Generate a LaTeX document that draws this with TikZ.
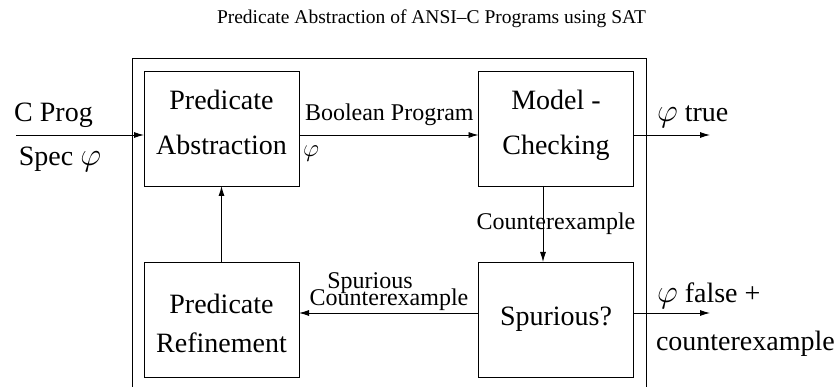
\documentclass[tikz,border=0pt]{standalone}
\usepackage{fontspec}
\setmainfont{Liberation Serif}
\usetikzlibrary{arrows.meta,calc}
\newcommand{\bigphi}{\scalebox{1.3}{$\varphi$}}
\begin{document}
\begin{tikzpicture}[x=1pt,y=-1pt,
  box/.style={draw, line width=0.9pt, minimum width=155pt, minimum height=115pt,
              inner sep=0pt, outer sep=0pt, align=center},
  big/.style={font=\fontsize{28}{34}\selectfont},
  small/.style={font=\fontsize{24}{17}\selectfont},
  arr/.style={-{Latex[length=10pt,width=6pt]}, line width=0.9pt},
  lbl/.style={inner sep=0pt, outer sep=0pt}
]
\clip (0,0) rectangle (840,387);
% title
\node[lbl, anchor=base west, font=\fontsize{19.5}{20}\selectfont] (title) at (217,24)
  {Predicate Abstraction of ANSI--C Programs using SAT};
% outer frame (runs off the bottom)
\node[draw, line width=0.9pt, anchor=north west, minimum width=514pt, minimum height=360pt,
      inner sep=0pt, outer sep=0pt] (frame) at (132,58) {};
% boxes
\node[box, font=\fontsize{28}{45}\selectfont, text height=64pt, text depth=11pt] (pa) at (221.5,128.5) {Predicate\\Abstraction};
\node[box, font=\fontsize{28}{45}\selectfont, text height=64pt, text depth=11pt] (mc) at (556,128.5) {Model -\\Checking};
\node[box, font=\fontsize{28}{39}\selectfont, text height=65pt, text depth=0pt] (pr) at (221.5,319.5) {Predicate\\Refinement};
\node[box, font=\fontsize{28}{34}\selectfont] (sp) at (556,319.5) {Spurious?};
% input
\coordinate (in) at (16,135);
\draw[arr] (in) -- ([yshift=-6.5pt]pa.west);
\node[lbl, big, anchor=base] (cprog) at (53.5,122) {C Prog};
\node[lbl, big, anchor=base] (spec) at (60,166) {Spec \bigphi};
% abstraction -> model checking
\draw[arr] ([yshift=-6.5pt]pa.east) -- ([yshift=-6.5pt]mc.west);
\node[lbl, small, anchor=base west] (bp) at (305,121) {Boolean Program};
\node[lbl, anchor=base, font=\fontsize{24}{24}\selectfont] (phi) at (311,157) {$\varphi$};
% model checking -> true
\coordinate (o1) at (710,135);
\draw[arr] ([yshift=-6.5pt]mc.east) -- (o1);
\node[lbl, big, anchor=base west] (true) at (657,122) {\bigphi\ true};
% model checking -> spurious
\coordinate (c1) at ([xshift=-13pt]mc.south);
\draw[arr] (c1) -- (c1 |- sp.north);
\node[lbl, small, anchor=base] (cx) at (556,230) {Counterexample};
% spurious -> refinement
\draw[arr] ([yshift=6.5pt]sp.west) -- ([yshift=6.5pt]pr.east);
\node[lbl, small, anchor=base] (sc1) at (370,288) {Spurious};
\node[lbl, small, anchor=base] (sc2) at (389,305) {Counterexample};
% refinement -> abstraction
\draw[arr] (pr.north) -- (pa.south);
% spurious -> false
\coordinate (o2) at (710,313);
\draw[arr] ([yshift=6.5pt]sp.east) -- (o2);
\node[lbl, big, anchor=base west] (false) at (657,302) {\bigphi\ false +};
\node[lbl, big, anchor=base west] (cex) at (656,350) {counterexample};
\end{tikzpicture}
\end{document}
